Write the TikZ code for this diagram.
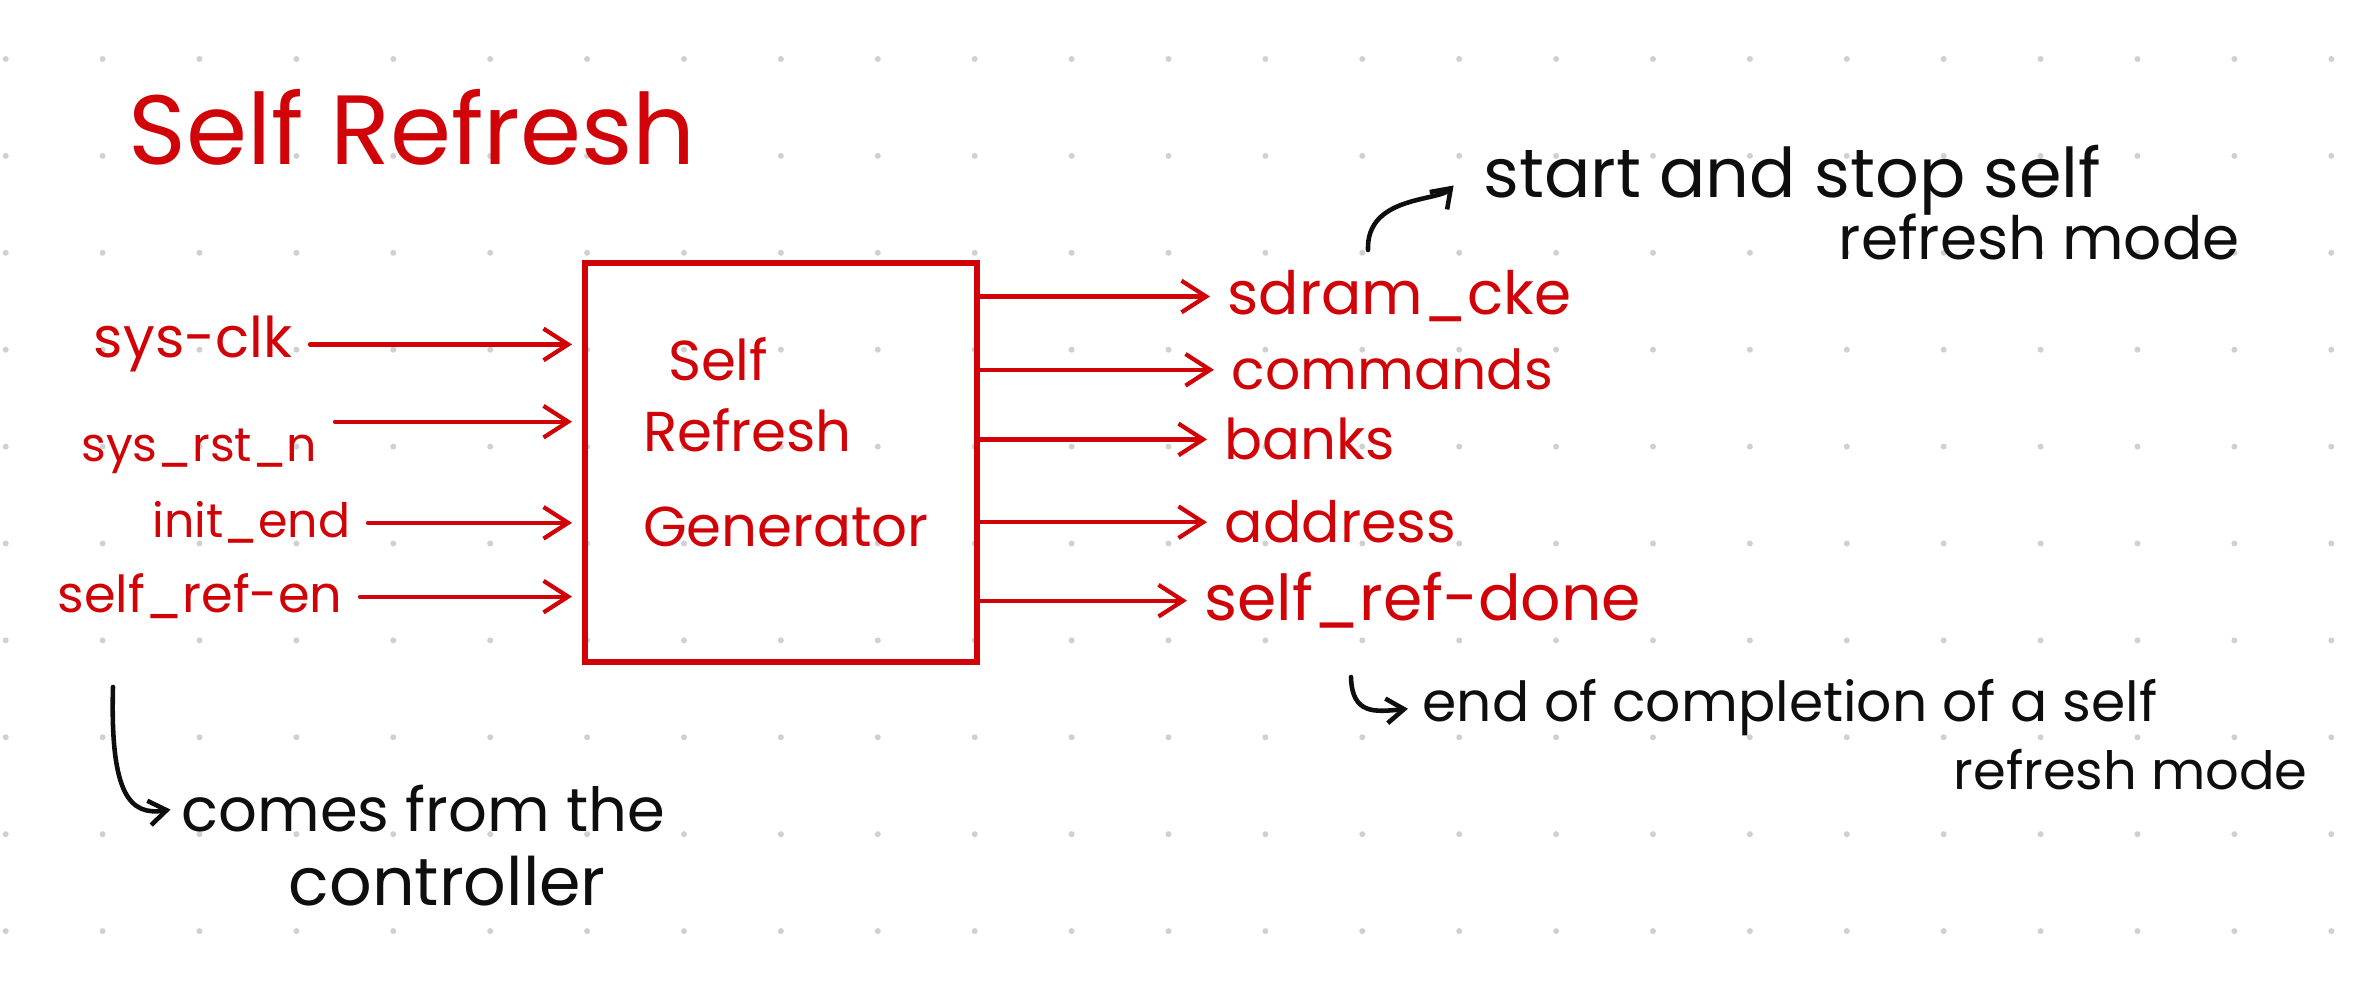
\documentclass[tikz,border=0pt]{standalone}
\usepackage{fontspec}
\setmainfont{Poppins}
\usetikzlibrary{positioning,arrows.meta}
\definecolor{inkred}{RGB}{208,4,8}
\definecolor{inkblack}{RGB}{14,14,14}
\definecolor{dotgray}{RGB}{208,208,208}

\begin{document}
\begin{tikzpicture}[
		sig/.style={
			text=inkred,
			font=\fontsize{#1}{#1}\selectfont,
			inner sep=2pt,
		},
		sig/.default=14.5,
		note/.style={
			text=inkblack,
			font=\fontsize{#1}{#1}\selectfont,
			inner sep=2pt,
			anchor=base west,
		},
		note/.default=17,
		genbox/.style={
			draw=inkred,
			line width=1.7pt,
			minimum width=3.92cm,
			minimum height=3.99cm,
			text=inkred,
			align=left,
			text depth=0.41cm,
			font=\fontsize{16}{20}\selectfont,
		},
		wire/.style={draw=inkred, line width=1.2pt, line cap=round, -{Straight Barb[length=7pt,width=9pt]}},
		inkarrow/.style={draw=inkblack, line width=1.3pt, line cap=round, -{Straight Barb[length=5pt,width=7pt]}},
		>=latex
		]
		% Draw the page and its dot grid
		\fill[white] (0,0) rectangle (23.66,-10);
		\useasboundingbox (0,0) rectangle (23.66,-10);
		\foreach \i in {0,...,24} {
			\foreach \j in {0,...,9} {
				\fill[dotgray] (0.057+0.969*\i,-0.59-0.969*\j) circle (0.03);
			}
		}
		% Draw the title
		\node[text=inkred, font=\fontsize{28}{32}\selectfont, anchor=base west, inner sep=0pt] (title) at (1.28,-1.65) {Self Refresh};
		% Draw the generator block
		\node[genbox] (gen) at (7.81,-4.625) {\hspace*{0.35cm}Self\\\hspace*{0.1cm}Refresh\\[7pt]\hspace*{0.1cm}Generator};
		% Draw the inputs
		\foreach \i/\txt/\x/\y/\anc/\sz in {1/sys-clk/3.00/3.58/east/16,2/sys\_rst\_n/3.25/4.62/north east/13.5,3/init\_end/3.58/5.38/east/13.5,4/self\_ref-en/3.50/6.13/east/14.5} {
			\node[sig=\sz, anchor=base east] (in\i) at (\x,-\y) {\txt};
			\draw[wire, shorten <=1mm, shorten >=1mm] (in\i.\anc) -- (in\i.\anc -| gen.west);
		}
		% Draw the outputs
		\foreach \i/\txt/\x/\y/\sz in {1/sdram\_cke/12.20/3.15/17,2/commands/12.24/3.90/15.7,3/banks/12.17/4.60/16,4/address/12.17/5.43/16.2,5/self\_ref-done/11.97/6.21/18} {
			\node[sig=\sz, anchor=base west] (out\i) at (\x,-\y) {\txt};
			\draw[wire, shorten >=1mm] (gen.east |- out\i.west) -- (out\i.west);
		}
		% Draw the notes
		\node[note=19.5] (stop1) at (14.76,-1.98) {start and stop self};
		\node[note] (stop2) at (18.31,-2.60) {refresh mode};
		\coordinate (ckehook) at (13.68,-2.50);
		\draw[inkarrow, shorten >=9pt] (ckehook) to[out=92,in=225] ([yshift=5pt]stop1.west);
		
		\node[note=15.7] (done1) at (14.15,-7.22) {end of completion of a self};
		\node[note=15] (done2) at (19.46,-7.90) {refresh mode};
		\coordinate (donehook) at (13.51,-6.77);
		\draw[inkarrow, shorten >=2pt] (donehook) .. controls (13.52,-7.15) and (13.75,-7.12) .. (done1.west);
		
		\node[note=17.3] (ctrl1) at (1.74,-8.32) {comes from the};
		\node[note=19] (ctrl2) at (2.81,-9.06) {controller};
		\coordinate (inhook) at (1.13,-6.87);
		\draw[inkarrow, shorten >=1pt] (inhook) .. controls (1.10,-7.95) and (1.30,-8.16) .. (ctrl1.west);
		
	\end{tikzpicture}
\end{document}
